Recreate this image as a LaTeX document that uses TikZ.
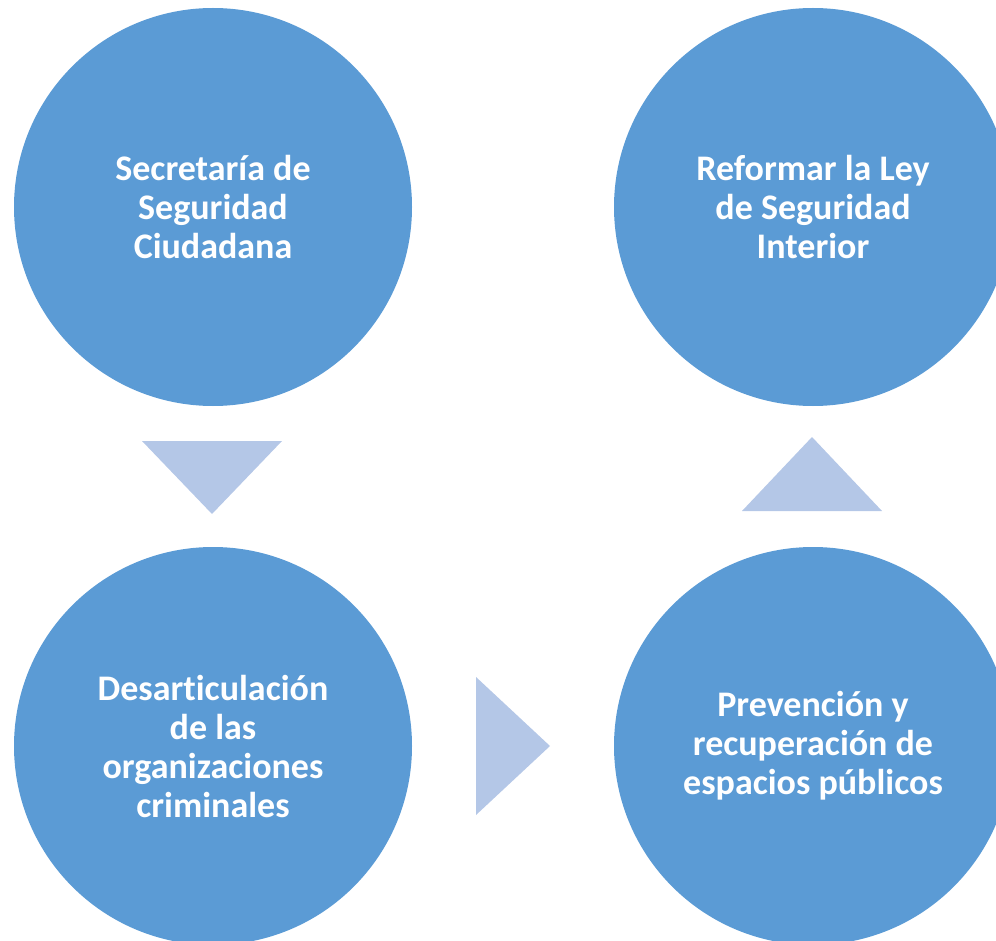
\documentclass[tikz,border=0pt]{standalone}
\usepackage{fontspec}
\setmainfont{Carlito}[RawFeature=-liga]
\definecolor{circblue}{HTML}{5B9BD5}
\definecolor{triblue}{HTML}{B4C7E7}

\begin{document}
\begin{tikzpicture}[x=1pt, y=-1pt,
	etapa/.style={circle,fill=circblue,minimum size=398pt,inner sep=0pt,align=center,text=white,font=\fontsize{36}{39}\selectfont\bfseries},
	flecha/.style={fill=triblue}]
	\useasboundingbox (0,0) rectangle (996,941);
	\clip (0,0) rectangle (996,941);

	\node[etapa] (ssc) at (213,207) {Secretaría de\\Seguridad\\Ciudadana};
	\node[etapa] (ley) at (813,207) {Reformar la Ley\\de Seguridad\\Interior};
	\node[etapa] (des) at (213,746) {Desarticulación\\de las\\organizaciones\\criminales};
	\node[etapa] (pre) at (813,746) {Prevención y\\recuperación de\\espacios públicos};

	\fill[flecha] (142,441) -- (282,441) -- (212,514) -- cycle;
	\fill[flecha] (476,677) -- (550,746) -- (476,815) -- cycle;
	\fill[flecha] (742,511) -- (812,437) -- (882,511) -- cycle;
\end{tikzpicture}
\end{document}
